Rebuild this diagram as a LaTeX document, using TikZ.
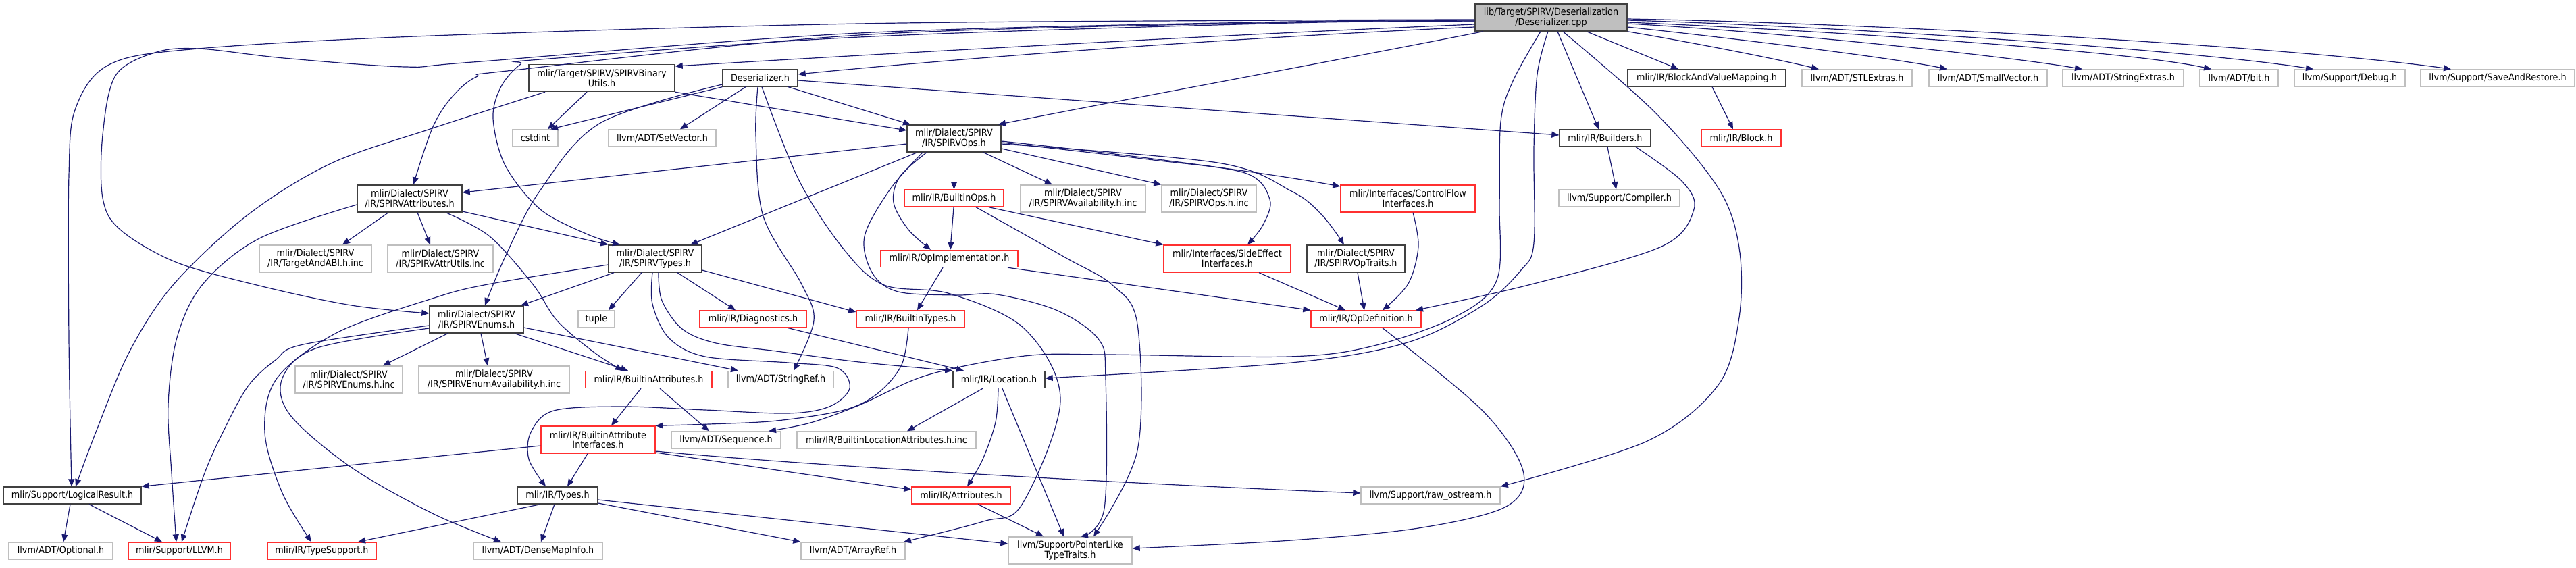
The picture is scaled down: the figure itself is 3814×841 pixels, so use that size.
\documentclass[tikz,border=0pt]{standalone}
\usepackage{fontspec}
\setmainfont{DejaVu Sans}[FakeStretch=0.9]
\usetikzlibrary{arrows.meta}
\definecolor{edgec}{HTML}{191970}
\definecolor{bdark}{HTML}{404040}
\definecolor{bred}{HTML}{FF3030}
\definecolor{bgray}{HTML}{BFBFBF}
\definecolor{topfill}{HTML}{BFBFBF}
\begin{document}
\begin{tikzpicture}[x=0.5pt,y=-0.5pt,
  nd/.style={draw, rectangle, inner sep=0pt, align=center, line width=0.7pt, font=\fontsize{7.1}{7.3}\selectfont},
  blk/.style={nd, draw=bdark},
  rd/.style={nd, draw=bred},
  gr/.style={nd, draw=bgray},
  one/.style={minimum height=12.5pt},
  two/.style={minimum height=20pt},
  e/.style={draw=edgec, line width=0.6pt, -{Triangle[length=5.5pt,width=4.5pt]}},
  sm/.style={smooth, tension=0.55}
]
\useasboundingbox (0,0) rectangle (3814,841);

% nodes
\node[nd,draw=bdark,fill=topfill,two,minimum width=112.5pt] (top) at (2296.5,26) {lib/Target/SPIRV/Deserialization\\/Deserializer.cpp};
\node[blk,two,minimum width=108pt] (binutils) at (891,115.5) {mlir/Target/SPIRV/SPIRVBinary\\Utils.h};
\node[blk,one,minimum width=55.5pt] (deserh) at (1125.5,115.5) {Deserializer.h};
\node[blk,two,minimum width=69.5pt] (ops) at (1412.5,205) {mlir/Dialect/SPIRV\\/IR/SPIRVOps.h};
\node[blk,two,minimum width=77.5pt] (attrs) at (606.5,294) {mlir/Dialect/SPIRV\\/IR/SPIRVAttributes.h};
\node[blk,two,minimum width=69pt] (types) at (970,383) {mlir/Dialect/SPIRV\\/IR/SPIRVTypes.h};
\node[blk,two,minimum width=69.5pt] (enums) at (705.5,473) {mlir/Dialect/SPIRV\\/IR/SPIRVEnums.h};
\node[blk,one,minimum width=102pt] (logres) at (107,733.5) {mlir/Support/LogicalResult.h};
\node[blk,one,minimum width=117pt] (bvm) at (2527,115.5) {mlir/IR/BlockAndValueMapping.h};
\node[blk,one,minimum width=67.5pt] (builders) at (2376.5,204.5) {mlir/IR/Builders.h};
\node[gr,one,minimum width=81.5pt] (stl) at (2749.5,115.5) {llvm/ADT/STLExtras.h};
\node[gr,one,minimum width=87.5pt] (smallvec) at (2943.5,115.5) {llvm/ADT/SmallVector.h};
\node[gr,one,minimum width=89.5pt] (strext) at (3143.5,115.5) {llvm/ADT/StringExtras.h};
\node[gr,one,minimum width=58pt] (bit) at (3315,115.5) {llvm/ADT/bit.h};
\node[gr,one,minimum width=82pt] (debug) at (3479,115.5) {llvm/Support/Debug.h};
\node[gr,one,minimum width=114pt] (saverestore) at (3698,115.5) {llvm/Support/SaveAndRestore.h};
\node[blk,one,minimum width=68pt] (location) at (1479,562) {mlir/IR/Location.h};
\node[gr,one,minimum width=103pt] (rawos) at (2118,733.5) {llvm/Support/raw\_ostream.h};
\node[gr,one,minimum width=33.5pt] (cstdint) at (792.5,204.5) {cstdint};
\node[gr,one,minimum width=79.5pt] (setvector) at (980.5,204.5) {llvm/ADT/SetVector.h};
\node[gr,two,minimum width=83pt] (targetabi) at (467,383) {mlir/Dialect/SPIRV\\/IR/TargetAndABI.h.inc};
\node[gr,two,minimum width=78pt] (attrutils) at (652,383) {mlir/Dialect/SPIRV\\/IR/SPIRVAttrUtils.inc};
\node[rd,one,minimum width=73.5pt] (builtinops) at (1412.5,293.5) {mlir/IR/BuiltinOps.h};
\node[gr,two,minimum width=92.5pt] (availinc) at (1603.5,294) {mlir/Dialect/SPIRV\\/IR/SPIRVAvailability.h.inc};
\node[gr,two,minimum width=70pt] (opsinc) at (1790,294) {mlir/Dialect/SPIRV\\/IR/SPIRVOps.h.inc};
\node[rd,one,minimum width=101.5pt] (opimpl) at (1405.5,383) {mlir/IR/OpImplementation.h};
\node[rd,two,minimum width=94pt] (sideeffect) at (1817,383) {mlir/Interfaces/SideEffect\\Interfaces.h};
\node[rd,two,minimum width=99.5pt] (controlflow) at (2084.5,294) {mlir/Interfaces/ControlFlow\\Interfaces.h};
\node[blk,two,minimum width=72.5pt] (optraits) at (2007.5,383) {mlir/Dialect/SPIRV\\/IR/SPIRVOpTraits.h};
\node[gr,one,minimum width=89.5pt] (compiler) at (2397.5,293.5) {llvm/Support/Compiler.h};
\node[rd,one,minimum width=59pt] (block) at (2578,204.5) {mlir/IR/Block.h};
\node[gr,two,minimum width=79.5pt] (enumsinc) at (516.5,562) {mlir/Dialect/SPIRV\\/IR/SPIRVEnums.h.inc};
\node[gr,two,minimum width=111.5pt] (enumavail) at (731.5,562) {mlir/Dialect/SPIRV\\/IR/SPIRVEnumAvailability.h.inc};
\node[gr,one,minimum width=27pt] (tuple) at (883,472.5) {tuple};
\node[rd,one,minimum width=79pt] (diag) at (1115,472.5) {mlir/IR/Diagnostics.h};
\node[rd,one,minimum width=80pt] (btypes) at (1348,472.5) {mlir/IR/BuiltinTypes.h};
\node[rd,one,minimum width=93.5pt] (battrs) at (960.5,562) {mlir/IR/BuiltinAttributes.h};
\node[gr,one,minimum width=78pt] (stringref) at (1156,562) {llvm/ADT/StringRef.h};
\node[rd,two,minimum width=84.5pt] (bai) at (885.5,651) {mlir/IR/BuiltinAttribute\\Interfaces.h};
\node[gr,one,minimum width=81pt] (sequence) at (1075,651.5) {llvm/ADT/Sequence.h};
\node[gr,one,minimum width=132.5pt] (locinc) at (1312.5,651.5) {mlir/IR/BuiltinLocationAttributes.h.inc};
\node[blk,one,minimum width=59.5pt] (irtypes) at (825.5,733.5) {mlir/IR/Types.h};
\node[gr,one,minimum width=77pt] (optional) at (90,815.5) {llvm/ADT/Optional.h};
\node[rd,one,minimum width=75.5pt] (llvmh) at (265.5,815.5) {mlir/Support/LLVM.h};
\node[rd,one,minimum width=80.5pt] (typesupport) at (476.5,815.5) {mlir/IR/TypeSupport.h};
\node[gr,one,minimum width=95.5pt] (densemap) at (796.5,815.5) {llvm/ADT/DenseMapInfo.h};
\node[gr,one,minimum width=77pt] (arrayref) at (1263,815.5) {llvm/ADT/ArrayRef.h};
\node[rd,one,minimum width=73pt] (attributes) at (1423,733.5) {mlir/IR/Attributes.h};
\node[gr,two,minimum width=91.5pt] (pointerlike) at (1584.5,815) {llvm/Support/PointerLike\\TypeTraits.h};
\node[rd,one,minimum width=81.5pt] (opdef) at (2022.5,472.5) {mlir/IR/OpDefinition.h};

% edges from top node
\draw[e] (top.west |- 0,36) .. controls (1800,52) and (1300,80) .. (binutils.east |- 0,98);
\draw[e] (top.west |- 0,40) .. controls (1700,62) and (1300,98) .. (deserh.east |- 0,110);
\draw[e] (2196,0 |- top.south) .. controls (1950,95) and (1650,150) .. (1478,0 |- ops.north);
\draw[e] plot[sm] coordinates {(top.west |- 0,29) (1912,30) (1272,35) (640,53) (294,72) (163,95) (112,160) (102,260) (102,500) (106,0 |- logres.north)};
\draw[e] plot[sm] coordinates {(top.west |- 0,30) (1912,32) (1272,49) (700,92) (600,99) (420,86) (294,72) (229,78) (171,112) (152,200) (152,293) (178,340) (260,388) (384,423) (520,452) (enums.west |- 0,464)};
\draw[e] plot[sm] coordinates {(top.west |- 0,31) (1912,33) (1272,52) (760,104) (705,114) (668,145) (640,190) (612,0 |- attrs.north)};
\draw[e] plot[sm] coordinates {(top.west |- 0,32) (1912,34) (1272,55) (800,88) (771,95) (742,128) (730,175) (748,245) (800,310) (870,347) (918,0 |- types.north)};
\draw[e] (top.south east) .. controls (2500,62) and (2620,85) .. (2693,0 |- stl.north);
\draw[e] (top.east |- 0,40) .. controls (2550,55) and (2800,85) .. (2883,0 |- smallvec.north);
\draw[e] (top.east |- 0,35) .. controls (2600,45) and (2950,80) .. (3083,0 |- strext.north);
\draw[e] (top.east |- 0,33) .. controls (2700,45) and (3150,75) .. (3274,0 |- bit.north);
\draw[e] (top.east |- 0,30) .. controls (2750,40) and (3250,75) .. (3425,0 |- debug.north);
\draw[e] (top.east |- 0,28) .. controls (2800,35) and (3400,70) .. (3629,0 |- saverestore.north);
\draw[e] (2349,0 |- top.south) -- (2485,0 |- bvm.north);
\draw[e] (2306,0 |- top.south) -- (2367,0 |- builders.north);
\draw[e] plot[sm] coordinates {(2292,0 |- top.south) (2276,110) (2271,220) (2271,360) (2252,400) (2194,453) (2084,507) (1912,537) (location.east |- 0,560)};
\draw[e] plot[sm] coordinates {(2281,0 |- top.south) (2240,120) (2222,180) (2220,300) (2216,415) (2153,470) (2030,513) (1908,528) (1639,525) (1517,527) (1374,555) (1272,600) (1200,626) (1138,0 |- sequence.north)};
\draw[e] plot[sm] coordinates {(2314,0 |- top.south) (2451,167) (2545,280) (2575,367) (2575,470) (2544,570) (2439,653) (rawos.north east)};

% Deserializer.h
\draw[e] (deserh.south west) -- (815,0 |- cstdint.north);
\draw[e] (1104,0 |- deserh.south) -- (1007,0 |- setvector.north);
\draw[e] (1167,0 |- deserh.south) -- (1348,0 |- ops.north);
\draw[e] (deserh.east |- 0,119) -- (builders.west |- 0,200);
\draw[e] plot[sm] coordinates {(deserh.west |- 0,125) (889,182) (799,283) (748,380) (718,0 |- enums.north)};
\draw[e] plot[sm] coordinates {(1122,0 |- deserh.south) (1119,200) (1130,320) (1187,421) (1205,475) (1175,0 |- stringref.north)};
\draw[e] plot[sm] coordinates {(1128,0 |- deserh.south) (1183,267) (1250,370) (1309,422) (1407,435) (1517,487) (1570,593) (1513,747) (1456,772) (1338,0 |- arrayref.north)};

% SPIRVBinaryUtils.h
\draw[e] (869,0 |- binutils.south) -- (811,0 |- cstdint.north);
\draw[e] plot[sm] coordinates {(807,0 |- binutils.south) (640,190) (490,242) (367,318) (257,421) (192,520) (143,637) (112,0 |- logres.north)};
\draw[e] (binutils.south east) -- (ops.west |- 0,193);

% SPIRVOps.h
\draw[e] (ops.west |- 0,213) -- (attrs.east |- 0,285);
\draw[e] (1358,0 |- ops.south) -- (1022,0 |- types.north);
\draw[e] plot[sm] coordinates {(1372,0 |- ops.south) (1332,262) (1323,300) (1345,340) (1378,0 |- opimpl.north)};
\draw[e] plot[sm] coordinates {(1366,0 |- ops.south) (1318,280) (1280,350) (1292,405) (1330,432) (1415,437) (1476,436) (1566,460) (1627,503) (1637,560) (1635,753) (1600,0 |- pointerlike.north)};
\draw[e] (ops.south) -- (builtinops.north);
\draw[e] (1456,0 |- ops.south) -- (1558,0 |- availinc.north);
\draw[e] (ops.east |- 0,220) -- (opsinc.north west);
\draw[e] plot[sm] coordinates {(ops.east |- 0,211) (1700,236) (1843,256) (1880,295) (1870,333) (1847,0 |- sideeffect.north)};
\draw[e] (ops.east |- 0,209) .. controls (1700,232) and (1900,260) .. (controlflow.west |- 0,276);
\draw[e] plot[sm] coordinates {(ops.east |- 0,213) (1803,241) (1912,283) (1957,318) (1990,0 |- optraits.north)};

% BuiltinOps.h
\draw[e] (1412,0 |- builtinops.south) -- (1407,0 |- opimpl.north);
\draw[e] (1464,0 |- builtinops.south) -- (sideeffect.north west);
\draw[e] plot[sm] coordinates {(1445,0 |- builtinops.south) (1575,380) (1647,422) (1684,480) (1684,667) (1619,0 |- pointerlike.north)};

% OpImplementation.h and interfaces
\draw[e] (1396,0 |- opimpl.south) -- (1358,0 |- btypes.north);
\draw[e] (1492,0 |- opimpl.south) -- (opdef.north west);
\draw[e] (1864,0 |- sideeffect.south) -- (1992,0 |- opdef.north);
\draw[e] (2010,0 |- optraits.south) -- (2020,0 |- opdef.north);
\draw[e] plot[sm] coordinates {(2092,0 |- controlflow.south) (2100,365) (2085,420) (2047,0 |- opdef.north)};
\draw[e] plot[sm] coordinates {(2422,0 |- builders.south) (2490,268) (2508,310) (2460,365) (2267,421) (2096,0 |- opdef.north)};
\draw[e] (2380,0 |- builders.south) -- (2393,0 |- compiler.north);
\draw[e] (2535,0 |- bvm.south) -- (2566,0 |- block.north);

% SPIRVAttributes.h
\draw[e] (575,0 |- attrs.south) -- (507,0 |- targetabi.north);
\draw[e] (618,0 |- attrs.south) -- (637,0 |- attrutils.north);
\draw[e] (attrs.east |- 0,313) -- (types.north west);
\draw[e] plot[sm] coordinates {(660,0 |- attrs.south) (725,350) (789,421) (825,475) (880,522) (922,0 |- battrs.north)};
\draw[e] plot[sm] coordinates {(attrs.west |- 0,303) (384,353) (300,421) (262,500) (249,600) (254,700) (261,0 |- llvmh.north)};

% SPIRVTypes.h
\draw[e] plot[sm] coordinates {(types.west |- 0,392) (722,421) (640,442) (500,492) (410,560) (392,640) (418,730) (461,0 |- typesupport.north)};
\draw[e] (909,0 |- types.south) -- (771,0 |- enums.north);
\draw[e] (950,0 |- types.south) -- (901,0 |- tuple.north);
\draw[e] plot[sm] coordinates {(966,0 |- types.south) (966,450) (990,500) (1044,528) (1167,537) (1240,545) (1258,575) (1228,602) (1167,612) (1044,607) (922,602) (820,608) (786,640) (783,680) (808,0 |- irtypes.north)};
\draw[e] plot[sm] coordinates {(975,0 |- types.south) (980,445) (1010,487) (1060,508) (1150,520) (1272,536) (location.north west)};
\draw[e] (1003,0 |- types.south) -- (1089,0 |- diag.north);
\draw[e] (types.east |- 0,400) -- (btypes.west |- 0,462);

% SPIRVEnums.h
\draw[e] (663,0 |- enums.south) -- (567,0 |- enumsinc.north);
\draw[e] (712,0 |- enums.south) -- (722,0 |- enumavail.north);
\draw[e] (762,0 |- enums.south) -- (930,0 |- battrs.north);
\draw[e] (enums.east |- 0,485) -- (1093,0 |- stringref.north);
\draw[e] plot[sm] coordinates {(enums.west |- 0,482) (449,510) (408,533) (367,572) (330,640) (302,703) (269,0 |- llvmh.north)};
\draw[e] plot[sm] coordinates {(enums.west |- 0,486) (470,515) (418,560) (430,615) (520,692) (640,760) (742,0 |- densemap.north)};

% BuiltinAttributes.h
\draw[e] (949,0 |- battrs.south) -- (905,0 |- bai.north);
\draw[e] (977,0 |- battrs.south) -- (1050,0 |- sequence.north);

% BuiltinAttributeInterfaces.h
\draw[e] (870,0 |- bai.south) -- (840,0 |- irtypes.north);
\draw[e] (bai.west |- 0,660) -- (logres.north east);
\draw[e] (bai.east |- 0,670) -- (attributes.west |- 0,725);
\draw[e] (bai.east |- 0,668) .. controls (1200,690) and (1700,718) .. (rawos.west |- 0,730);

% Types.h
\draw[e] (800,0 |- irtypes.south) -- (530,0 |- typesupport.north);
\draw[e] (821,0 |- irtypes.south) -- (801,0 |- densemap.north);
\draw[e] (irtypes.east |- 0,745) -- (arrayref.north west);
\draw[e] (irtypes.east |- 0,740) -- (pointerlike.west |- 0,805);

% Location.h and others
\draw[e] (1455,0 |- location.south) -- (1343,0 |- locinc.north);
\draw[e] plot[sm] coordinates {(1478,0 |- location.south) (1474,625) (1455,680) (1432,0 |- attributes.north)};
\draw[e] (1484,0 |- location.south) -- (1575,0 |- pointerlike.north);
\draw[e] (1448,0 |- attributes.south) -- (1545,0 |- pointerlike.north);
\draw[e] (1167,0 |- diag.south) -- (1427,0 |- location.north);
\draw[e] plot[sm] coordinates {(1345,0 |- btypes.south) (1335,540) (1300,582) (1250,607) (1150,623) (1050,628) (bai.north east)};
\draw[e] (104,0 |- logres.south) -- (94,0 |- optional.north);
\draw[e] (132,0 |- logres.south) -- (240,0 |- llvmh.north);
\draw[e] plot[sm] coordinates {(2047,0 |- opdef.south) (2194,607) (2255,697) (2230,750) (2100,782) (1912,800) (pointerlike.east |- 0,812)};
\end{tikzpicture}
\end{document}
